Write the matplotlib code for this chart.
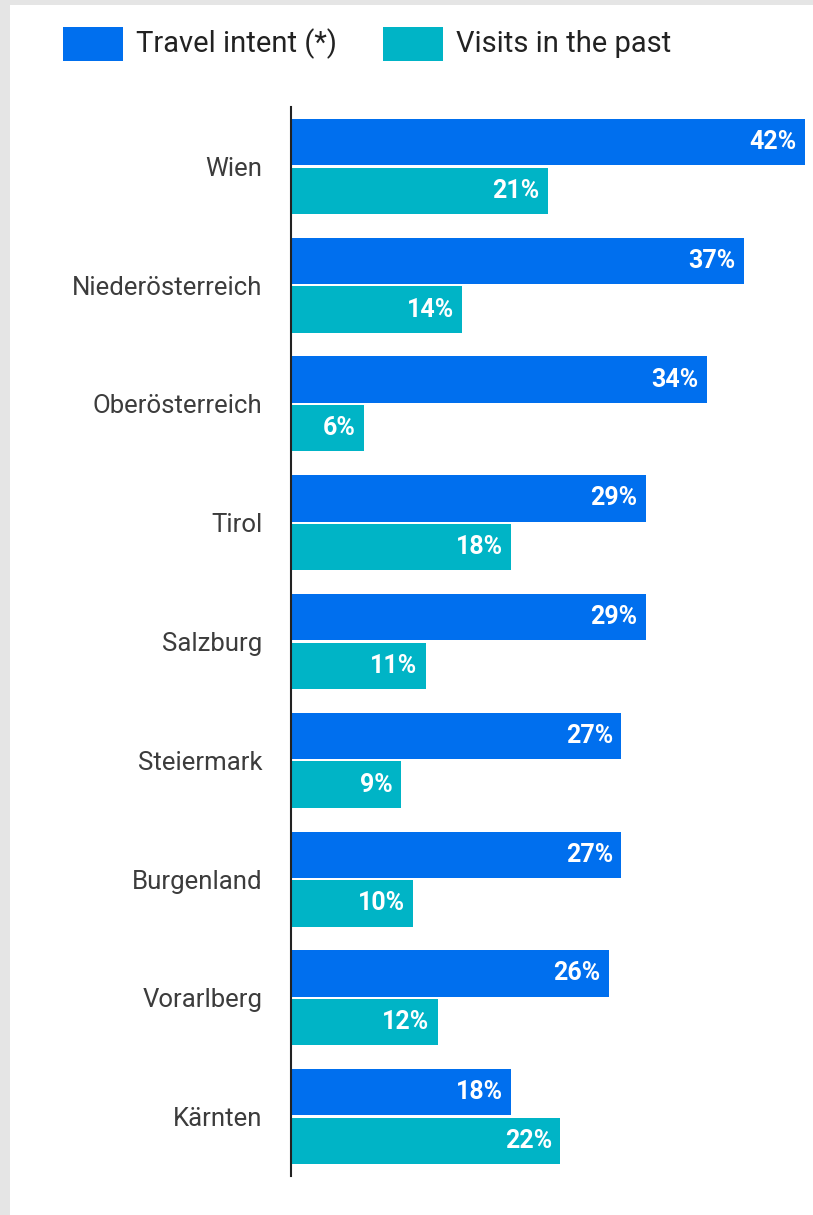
import matplotlib
matplotlib.use('Agg')
import matplotlib.pyplot as plt
from matplotlib.patches import Rectangle

plt.rcParams['font.family'] = ['Roboto', 'DejaVu Sans']

regions = ['Wien', 'Niederösterreich', 'Oberösterreich', 'Tirol', 'Salzburg',
           'Steiermark', 'Burgenland', 'Vorarlberg', 'Kärnten']
travel_intent = [42, 37, 34, 29, 29, 27, 27, 26, 18]
past_visits = [21, 14, 6, 18, 11, 9, 10, 12, 22]
series_names = ['Travel intent (*)', 'Visits in the past']
colors = ['#006fee', '#00b4c6']

W, H = 813, 1215
fig = plt.figure(figsize=(W / 100, H / 100), dpi=100)
fig.patch.set_facecolor('white')

# light grey frame on the left and top edges
fig.patches.append(Rectangle((0, 0), 10 / W, 1, transform=fig.transFigure,
                             facecolor='#e5e5e5', edgecolor='none'))
fig.patches.append(Rectangle((0, 1 - 5 / H), 1, 5 / H, transform=fig.transFigure,
                             facecolor='#e5e5e5', edgecolor='none'))

ax = fig.add_axes([291 / W, (H - 1176) / H, (805 - 291) / W, (1176 - 107) / H])

ypos = list(range(len(regions)))
bar_h = 0.39
off = 0.205
for vals, color, shift in [(travel_intent, colors[0], -off), (past_visits, colors[1], off)]:
    ys = [y + shift for y in ypos]
    ax.barh(ys, vals, height=bar_h, color=color, edgecolor='none')
    for y, v in zip(ys, vals):
        ax.annotate(f'{v}%', xy=(v, y), xytext=(-6, 0), textcoords='offset points',
                    ha='right', va='center', color='white', fontsize=18,
                    fontweight='bold')

ax.set_xlim(0, 42)
ax.set_ylim(len(regions) - 0.5, -0.5)
ax.set_yticks(ypos)
ax.set_yticklabels(regions, fontsize=18.5, color='#3c3c3c')
ax.tick_params(axis='y', length=0, pad=20.5)
ax.set_xticks([])
for s in ['top', 'right', 'bottom']:
    ax.spines[s].set_visible(False)
ax.spines['left'].set_color('#222222')
ax.spines['left'].set_linewidth(1.5)

# legend drawn as swatches with labels
legend_x = [63, 383]
for name, color, lx in zip(series_names, colors, legend_x):
    fig.patches.append(Rectangle((lx / W, (H - 61) / H), 60 / W, 34 / H,
                                 transform=fig.transFigure, facecolor=color,
                                 edgecolor='none'))
    fig.text((lx + 73) / W, (H - 44) / H, name, fontsize=21, color='#222222',
             ha='left', va='center')

fig.savefig('out.png', dpi=100)
